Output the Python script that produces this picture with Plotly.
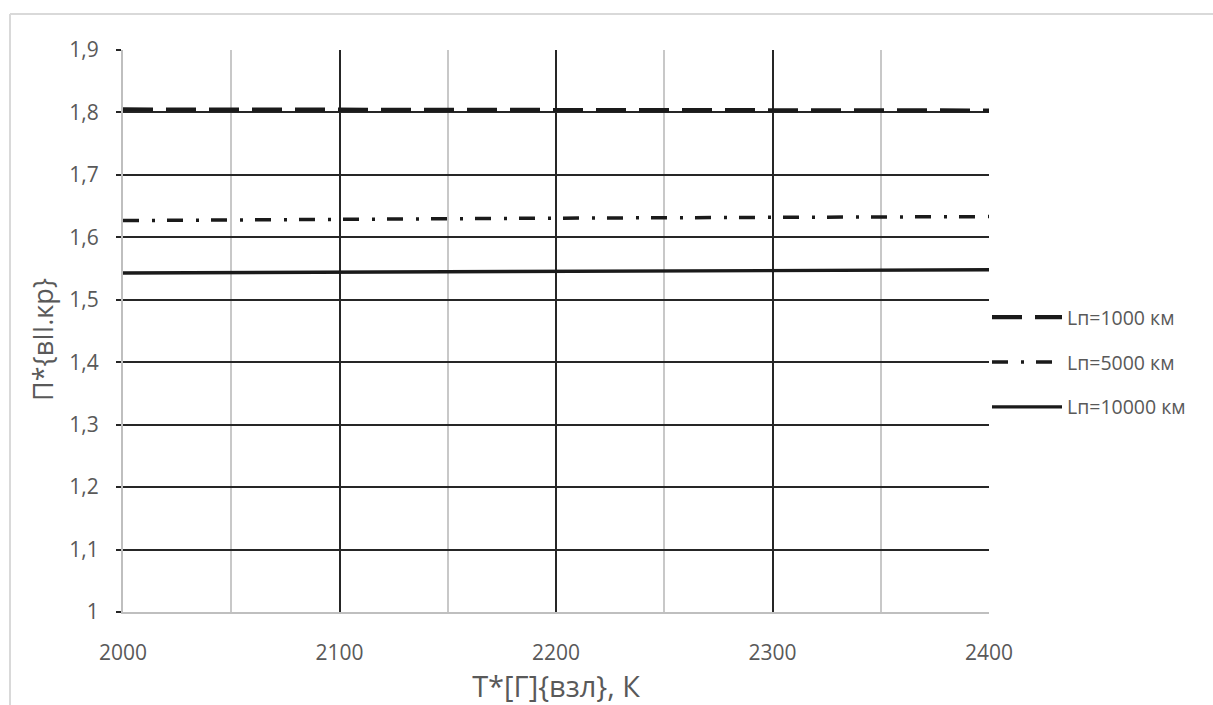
import plotly.graph_objects as go

T = [2000, 2100, 2200, 2300, 2400]
p_1000 = [1.8048, 1.8043, 1.8039, 1.8035, 1.8031]
p_5000 = [1.6268, 1.6290, 1.6307, 1.6320, 1.6332]
p_10000 = [1.5430, 1.5442, 1.5455, 1.5467, 1.5480]
names = ["Lп=1000 км", "Lп=5000 км", "Lп=10000 км"]
y_ticks = [1, 1.1, 1.2, 1.3, 1.4, 1.5, 1.6, 1.7, 1.8, 1.9]
y_labels = ["1", "1,1", "1,2", "1,3", "1,4", "1,5", "1,6", "1,7", "1,8", "1,9"]
x_ticks = [2000, 2100, 2200, 2300, 2400]
x_title = "Т*[Г]{взл}, К"
y_title = "П*{вII.кр}"

FONT = "Open Sans"
TXT = "#595959"
W, H = 1213, 705
L, R, TOP, B = 123, 224, 50, 93
pw, ph = W - L - R, H - TOP - B

fig = go.Figure()
series = [p_1000, p_5000, p_10000]
dashes = ["30px,13px", "16px,13px,3px,12px", "solid"]
widths = [4.2, 3.5, 3.4]
for i, (ys, nm) in enumerate(zip(series, names)):
    fig.add_trace(go.Scatter(
        x=T, y=ys, name=nm, mode="lines",
        line=dict(color="#1a1a1a", width=widths[i], dash=dashes[i]),
        legendgroup=f"g{i}", hoverinfo="skip"))

fig.update_layout(
    width=W, height=H,
    margin=dict(l=L, r=R, t=TOP, b=B, pad=0),
    paper_bgcolor="white", plot_bgcolor="white",
    font=dict(family=FONT, color=TXT),
    showlegend=True,
    legend=dict(x=(987 - L) / pw, y=(612 - 298) / ph, xanchor="left", yanchor="top",
                font=dict(size=19.5, color=TXT, family=FONT), itemwidth=70,
                tracegroupgap=16.5, bgcolor="rgba(0,0,0,0)"),
    xaxis=dict(range=[2000, 2400], tickvals=x_ticks, ticktext=[str(v) for v in x_ticks],
               showgrid=True, gridcolor="#262626", gridwidth=1.5,
               minor=dict(dtick=50, showgrid=True, gridcolor="#c8c8c8", gridwidth=1.5, ticks=""),
               showline=True, linecolor="#bfbfbf", linewidth=2, ticks="",
               tickfont=dict(size=21, color=TXT), ticklabelstandoff=21,
               zeroline=False,
               title=dict(text=x_title, font=dict(size=29, color=TXT), standoff=2)),
    yaxis=dict(range=[1, 1.9], tickvals=y_ticks, ticktext=y_labels,
               showgrid=True, gridcolor="#262626", gridwidth=1.5,
               showline=True, linecolor="#bfbfbf", linewidth=2,
               ticks="outside", ticklen=5, tickcolor="#262626", tickwidth=1.5,
               tickfont=dict(size=21, color=TXT), ticklabelstandoff=13,
               zeroline=False),
)

fig.add_annotation(text=y_title, xref="paper", yref="paper",
                   x=(42 - L) / pw, y=(612 - 340) / ph, xanchor="center", yanchor="middle",
                   textangle=-90, showarrow=False, font=dict(size=27, color=TXT, family=FONT))

# outer chart border (light gray)
bx0 = (10 - L) / pw
by1 = 1 + (TOP - 14) / ph
fig.add_shape(type="line", xref="paper", yref="paper", x0=bx0, x1=1.5, y0=by1, y1=by1,
              line=dict(color="#d9d9d9", width=2), layer="below")
fig.add_shape(type="line", xref="paper", yref="paper", x0=bx0, x1=bx0, y0=by1, y1=-0.5,
              line=dict(color="#d9d9d9", width=2), layer="below")

fig.write_html("out.html")
